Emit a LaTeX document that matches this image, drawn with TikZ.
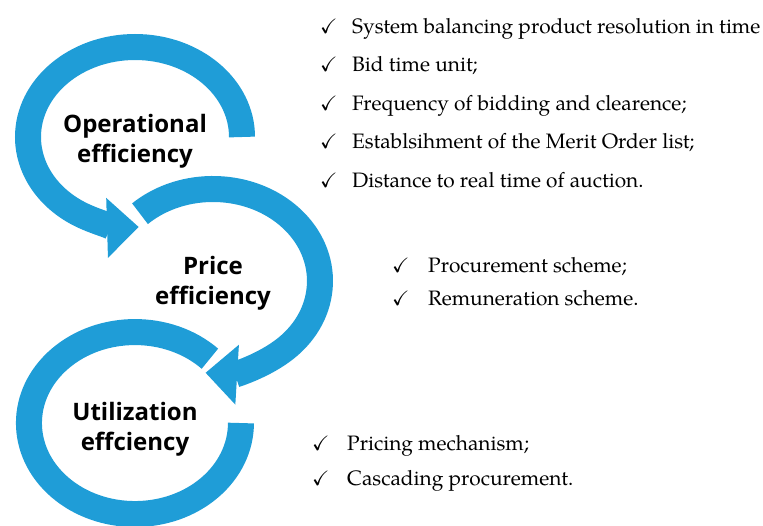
\documentclass[tikz,border=0pt]{standalone}
\usepackage{amssymb}
\usepackage{fontspec}
\setmainfont{TeX Gyre Pagella}
\newfontfamily\labelfont{Open Sans}
\usetikzlibrary{calc,positioning,arrows.meta}
\definecolor{ringblue}{RGB}{31,157,215}
\newcommand{\chk}[1]{\makebox[#1][l]{$\checkmark$}}

\begin{document}
\begin{tikzpicture}[x=0.03cm,y=0.03cm]
\tikzset{
  ring/.style = {draw=ringblue, line width=0.78cm},
  tip/.style = {-{Triangle[length=0.95cm,width=1.74cm]}},
  lbl/.style = {font=\labelfont\bfseries\fontsize{20.5}{25.5}\selectfont, align=center, inner sep=0pt},
  itm/.style = {anchor=base west, inner sep=0pt, font=\fontsize{17.8}{20}\selectfont}
}
\useasboundingbox (0,0) rectangle (763,-525);
\clip (0,0) rectangle (763,-525);
% ring centres
\coordinate (opc) at (135,-137);
\coordinate (prc) at (213,-281);
\coordinate (utc) at (135,-423);
% the three rings
\draw[ring,tip] ($(opc)+(107,0)$) arc[start angle=0,end angle=272,x radius=107,y radius=90];
\draw[ring,tip] ($(prc)+(-73,67.3)$) arc[start angle=133,end angle=-94,x radius=107,y radius=92];
\draw[ring] ($(utc)+(74.9,64.3)$) arc[start angle=45,end angle=360,x radius=106,y radius=91];
% labels
\node[lbl] (oplbl) at (135,-141) {Operational\\efficiency};
\node[lbl] (prlbl) at (213,-283) {Price\\efficiency};
\node[lbl] (utlbl) at (135,-429) {Utilization\\effciency};
% operational items
\node[itm] (sys) at (320,-33) {\chk{0.96cm}System balancing product resolution in time};
\node[itm] (bid) at (320,-71.5) {\chk{0.96cm}Bid time unit;};
\node[itm] (freq) at (320,-110) {\chk{0.96cm}Frequency of bidding and clearence;};
\node[itm] (merit) at (320,-148.5) {\chk{0.96cm}Establsihment of the Merit Order list;};
\node[itm] (dist) at (320,-187) {\chk{0.96cm}Distance to real time of auction.};
% price items
\node[itm] (proc) at (392,-272) {\chk{1.08cm}Procurement scheme;};
\node[itm] (rem) at (392,-305) {\chk{1.08cm}Remuneration scheme.};
% utilization items
\node[itm] (pric) at (312,-450) {\chk{1.05cm}Pricing mechanism;};
\node[itm] (casc) at (312,-485) {\chk{1.05cm}Cascading procurement.};
\end{tikzpicture}
\end{document}
